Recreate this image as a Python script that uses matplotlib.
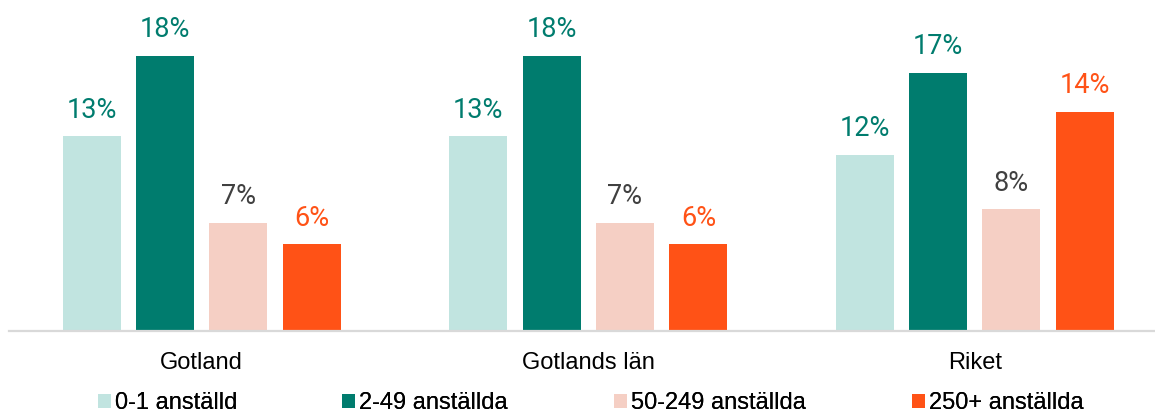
import numpy as np
import matplotlib
matplotlib.use("Agg")
from matplotlib import pyplot as plt

# data (percent)
regions = ["Gotland", "Gotlands län", "Riket"]
series = ["0-1 anställd", "2-49 anställda", "50-249 anställda", "250+ anställda"]
v_0_1 = [12.8, 12.8, 11.6]
v_2_49 = [18.1, 18.1, 17.0]
v_50_249 = [7.1, 7.1, 8.0]
v_250 = [5.7, 5.7, 14.4]
values = [v_0_1, v_2_49, v_50_249, v_250]

bar_colors = ["#C1E4E0", "#007C6E", "#F5CFC4", "#FF5216"]
label_colors = ["#007C6E", "#007C6E", "#404040", "#FF5216"]

W, H = 1155, 412
fig = plt.figure(figsize=(W / 100, H / 100), dpi=100)
# axes placed in pixels: left 8.5, baseline at y=331, group step 386.5 px
ax = fig.add_axes([8.5 / W, (H - 331) / H, 3 * 386.5 / W, 304 / H])

x = np.arange(len(regions))
width = 0.15
step = 0.19
bars = []
for i in range(len(series)):
    b = ax.bar(x + (i - 1.5) * step, values[i], width, color=bar_colors[i],
               label=series[i], zorder=2)
    bars.append(b)
    for rect, val in zip(b, values[i]):
        ax.annotate(f"{round(val):.0f}%",
                    (rect.get_x() + rect.get_width() / 2, rect.get_height()),
                    xytext=(0, 13.5), textcoords="offset points",
                    ha="center", va="baseline", fontsize=19.5,
                    family="Roboto", color=label_colors[i])

ax.set_xlim(-0.5, 2.5)
ax.set_ylim(0, 20)
ax.set_yticks([])
ax.set_xticks(x)
ax.set_xticklabels(regions, fontsize=17, family="Liberation Sans", color="#000000")
ax.tick_params(axis="x", length=0, pad=15)
for s in ["top", "left", "right"]:
    ax.spines[s].set_visible(False)
ax.spines["bottom"].set_color("#D9D9D9")
ax.spines["bottom"].set_linewidth(1.6)

# legend entries placed one by one like the original
marker_x = [98, 342, 614, 912]
for i in range(len(series)):
    leg = fig.legend([bars[i]], [series[i]], loc="center left",
                     bbox_to_anchor=(marker_x[i] / W, 1 - 403 / H),
                     frameon=False, borderpad=0, borderaxespad=0,
                     handlelength=0.55, handleheight=0.55, handletextpad=0.18,
                     prop={"family": "Liberation Sans", "size": 17})
    fig.add_artist(leg)

fig.savefig("out.png", dpi=100)
